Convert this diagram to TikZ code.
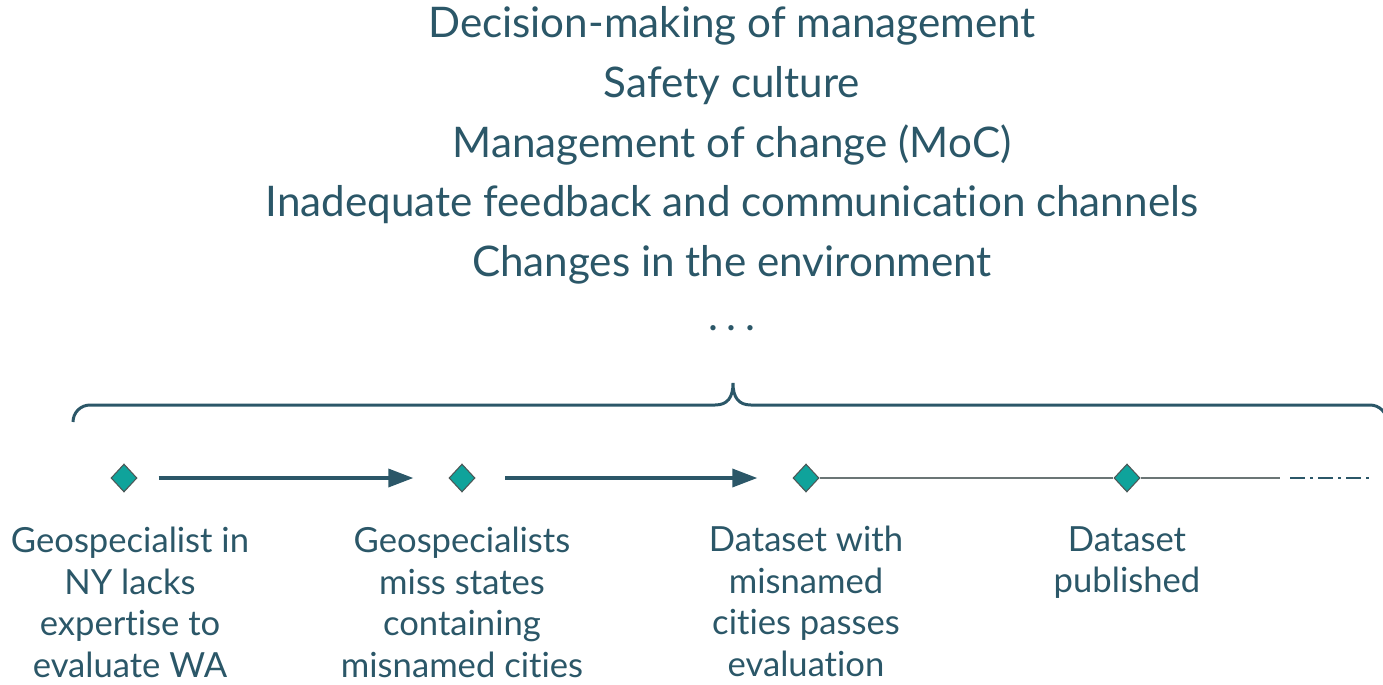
\documentclass[tikz,border=0pt]{standalone}
\usepackage{fontspec}
\setmainfont{Lato}[Ligatures=NoCommon]
\usetikzlibrary{shapes.geometric, arrows.meta}

\definecolor{slate}{HTML}{2B5768}
\definecolor{teal}{HTML}{0FA39B}
\definecolor{rim}{HTML}{4D5656}
\definecolor{track}{HTML}{6B7575}

\tikzset{
    factor/.style={anchor=base, inner sep=0pt, text=slate, font=\fontsize{24}{34}\selectfont},
    event/.style={diamond, draw=rim, fill=teal, line width=0.6pt, minimum width=0.52cm, minimum height=0.56cm, inner sep=0pt},
    caption/.style={anchor=north, align=center, inner sep=0pt, text=slate, font=\fontsize{19.7}{23.6}\selectfont},
    flow/.style={-{Triangle[length=0.5cm, width=0.36cm]}, line width=2pt, draw=slate},
    brace/.style={line width=1.7pt, draw=slate},
}

\begin{document}
\begin{tikzpicture}
        \useasboundingbox (0,0) rectangle (27.66,-13.68);
        \clip (0,0) rectangle (27.66,-13.68);

        % Factors
        \node[factor] (f1) at (14.64,-0.74) {Decision-making of management};
        \node[factor] (f2) at (14.64,-1.94) {Safety culture};
        \node[factor] (f3) at (14.64,-3.14) {Management of change (MoC)};
        \node[factor] (f4) at (14.64,-4.32) {Inadequate feedback and communication channels};
        \node[factor] (f5) at (14.64,-5.52) {Changes in the environment};
        \node[factor] (f6) at (14.64,-6.60) {.\hspace{0.2em}.\hspace{0.2em}.};

        % Brace
        \draw[brace] (1.46,-8.44) arc[start angle=180, end angle=90, radius=0.34]
            -- (14.3,-8.10) .. controls (14.55,-8.10) and (14.66,-7.95) .. (14.66,-7.66)
            .. controls (14.66,-7.95) and (14.77,-8.10) .. (15.02,-8.10)
            -- (27.4,-8.10) arc[start angle=90, end angle=0, radius=0.34];

        % Events
        \node[event] (d1) at (2.48,-9.56) {};
        \node[event] (d2) at (9.24,-9.56) {};
        \node[event] (d3) at (16.12,-9.56) {};
        \node[event] (d4) at (22.54,-9.56) {};
        \coordinate (t1) at (25.6,-9.56);
        \coordinate (t2) at (25.8,-9.56);
        \coordinate (t3) at (27.46,-9.56);

        % Captions
        \node[caption] (c1) at (2.6,-10.54) {Geospecialist in\\NY lacks\\expertise to\\evaluate WA};
        \node[caption] (c2) at (9.24,-10.54) {Geospecialists\\miss states\\containing\\misnamed cities};
        \node[caption] (c3) at (16.12,-10.52) {Dataset with\\misnamed\\cities passes\\evaluation};
        \node[caption] (c4) at (22.54,-10.52) {Dataset\\published};

        % Connections
        \draw[flow, shorten <=12pt, shorten >=20pt] (d1) -- (d2);
        \draw[flow, shorten <=17pt, shorten >=20pt] (d2) -- (d3);
        \draw[line width=0.8pt, draw=track] (d3) -- (d4);
        \draw[line width=0.8pt, draw=track] (d4) -- (t1);
        \draw[line width=1.2pt, draw=slate, dash pattern=on 0.3cm off 0.1cm on 0.06cm off 0.1cm] (t2) -- (t3);
    \end{tikzpicture}
\end{document}
